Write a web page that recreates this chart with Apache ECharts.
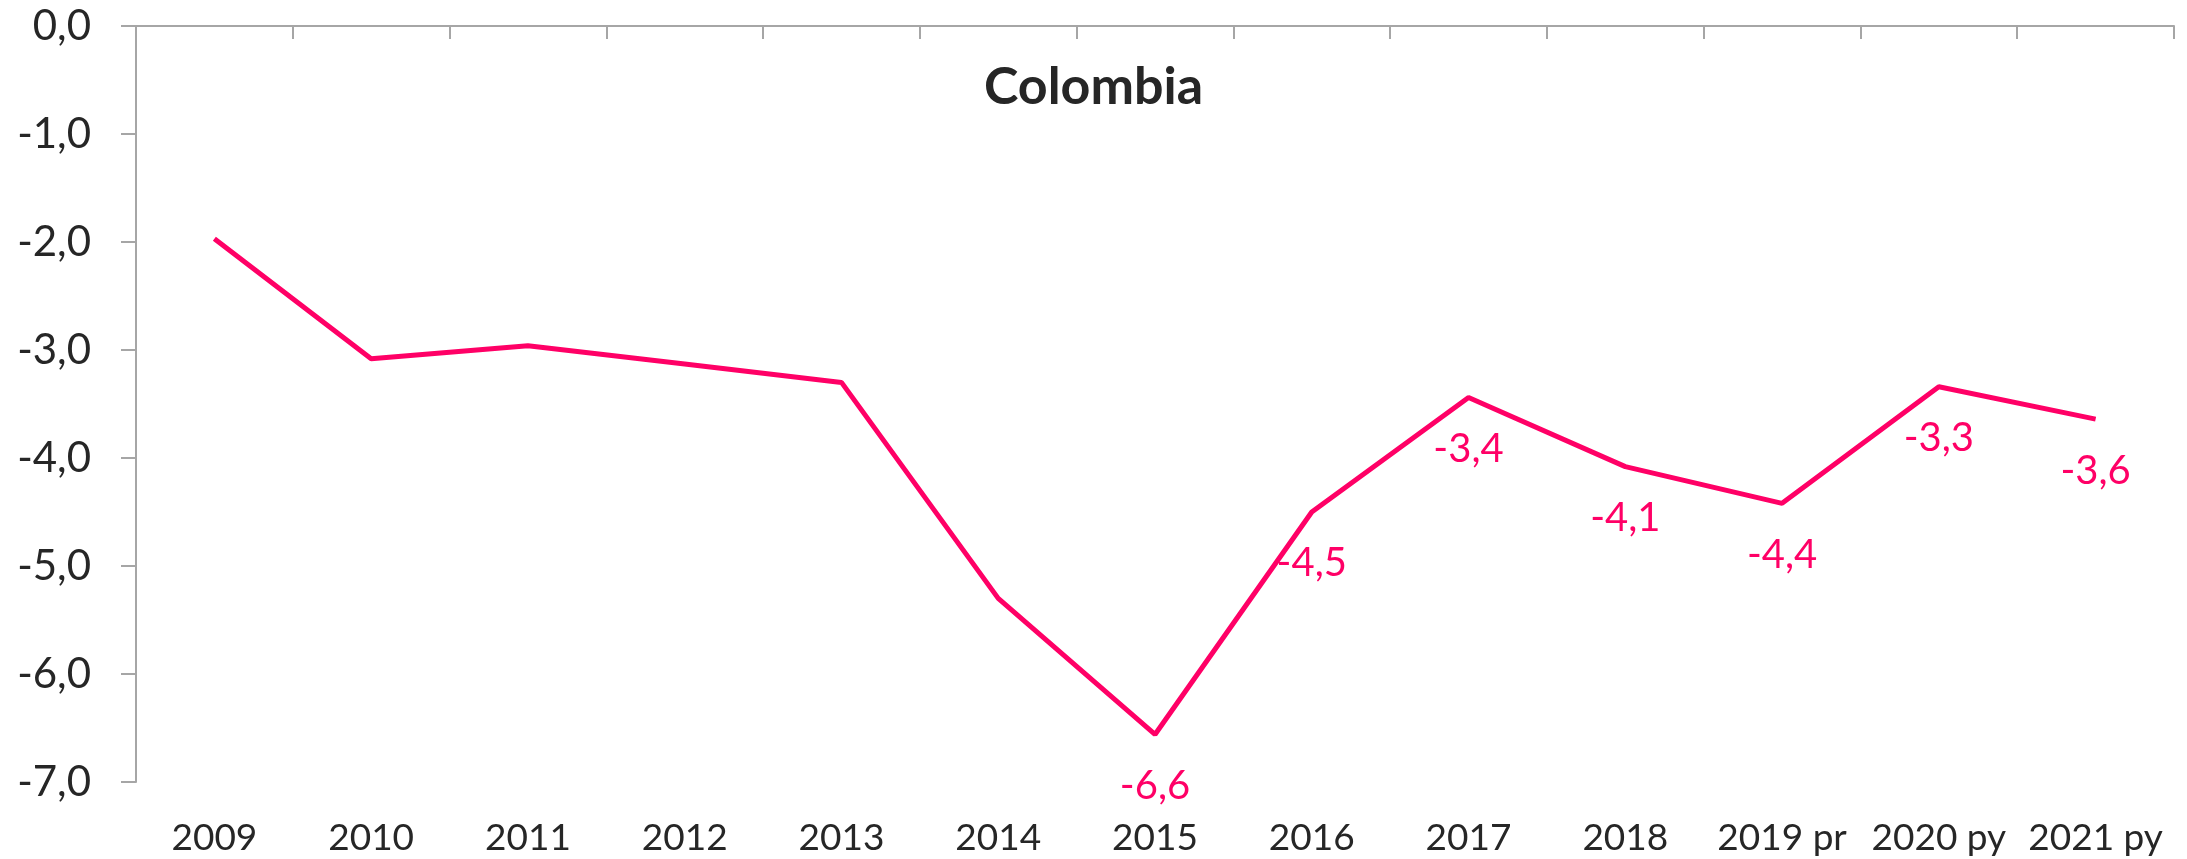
<!DOCTYPE html>
<html>
<head>
<meta charset="utf-8">
<script src="https://cdn.jsdelivr.net/npm/echarts@6/dist/echarts.min.js"></script>
<style>
html,body{margin:0;padding:0;background:#fff;}
#chart{width:2187px;height:859px;}
</style>
</head>
<body>
<div id="chart"></div>
<script>
var categories = ['2009','2010','2011','2012','2013','2014','2015','2016','2017','2018','2019 pr','2020 py','2021 py'];
var values = [-1.97, -3.08, -2.96, -3.13, -3.30, -5.30, -6.56, -4.50, -3.44, -4.08, -4.42, -3.34, -3.64];
var labelFromIndex = 6;
var yTicks = {min: -7, max: 0, interval: 1};
var titleText = 'Colombia';

var FONT = 'Lato, "Open Sans", sans-serif';
var AXIS_COLOR = '#a6a6a6';
var TEXT_COLOR = '#262626';
var LINE_COLOR = '#ff0066';

var chart = echarts.init(document.getElementById('chart'));
chart.setOption({
  backgroundColor: '#ffffff',
  animation: false,
  title: {
    text: titleText,
    left: 'center',
    top: 56,
    textStyle: {fontFamily: FONT, fontWeight: 'bold', fontSize: 52, color: TEXT_COLOR}
  },
  grid: {left: 136, right: 13, top: 26, bottom: 77, containLabel: false},
  xAxis: [{
    type: 'category',
    data: categories,
    position: 'top',
    boundaryGap: true,
    axisLine: {show: true, lineStyle: {color: AXIS_COLOR, width: 2}},
    axisTick: {show: true, inside: true, length: 13, interval: 0, lineStyle: {color: AXIS_COLOR, width: 2}},
    axisLabel: {show: false},
    splitLine: {show: false}
  }, {
    type: 'category',
    data: categories,
    position: 'bottom',
    boundaryGap: true,
    axisLine: {show: false},
    axisTick: {show: false},
    axisLabel: {show: true, interval: 0, margin: 38, fontFamily: FONT, fontSize: 37, color: TEXT_COLOR},
    splitLine: {show: false}
  }],
  yAxis: {
    type: 'value',
    min: yTicks.min,
    max: yTicks.max,
    interval: yTicks.interval,
    axisLine: {show: true, lineStyle: {color: AXIS_COLOR, width: 2}},
    axisTick: {show: true, length: 15, lineStyle: {color: AXIS_COLOR, width: 2}},
    axisLabel: {
      margin: 45, fontFamily: FONT, fontSize: 42, color: TEXT_COLOR,
      formatter: function (v) { return v.toFixed(1).replace('.', ','); }
    },
    splitLine: {show: false}
  },
  series: [{
    type: 'line',
    xAxisIndex: 0,
    data: values.map(function (v, i) {
      return {
        value: v,
        label: {show: i >= labelFromIndex}
      };
    }),
    symbol: 'circle',
    symbolSize: 1,
    showSymbol: true,
    itemStyle: {color: 'rgba(0,0,0,0)', borderWidth: 0},
    lineStyle: {color: LINE_COLOR, width: 5},
    label: {
      position: 'bottom',
      distance: 31,
      fontFamily: FONT,
      fontSize: 40,
      color: LINE_COLOR,
      formatter: function (p) { return p.value.toFixed(1).replace('.', ','); }
    }
  }]
});
</script>
</body>
</html>
